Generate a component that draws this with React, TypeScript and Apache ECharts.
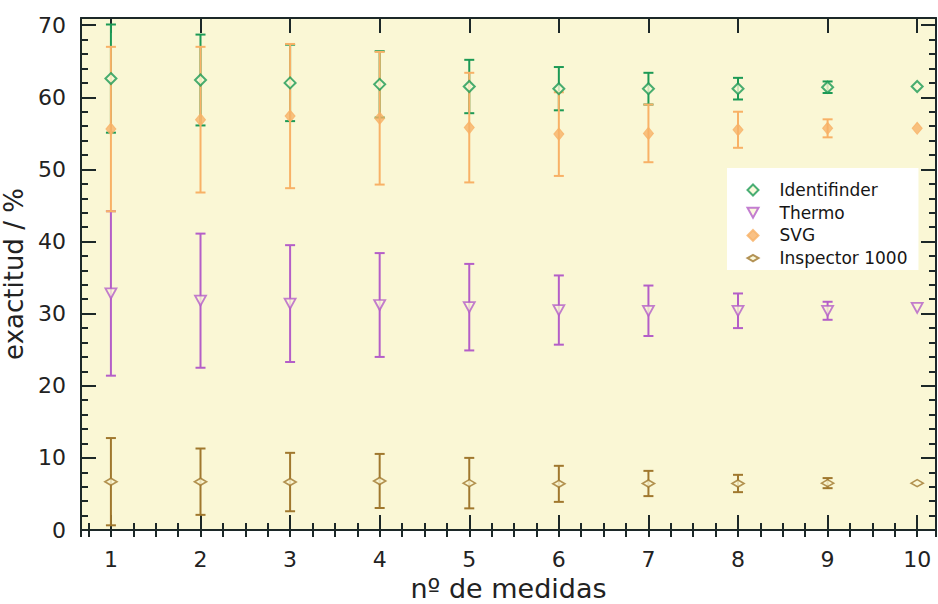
import React, { useEffect, useRef } from 'react';
import * as echarts from 'echarts';

// ---- data ----
const medidas = [1, 2, 3, 4, 5, 6, 7, 8, 9, 10];

const identifinderMean = [62.6, 62.4, 62.0, 61.8, 61.5, 61.2, 61.2, 61.2, 61.4, 61.5];
const identifinderErr = [7.5, 6.3, 5.3, 4.6, 3.7, 3.0, 2.2, 1.5, 0.8, 0];

const thermoMean = [32.8, 31.8, 31.4, 31.2, 30.9, 30.5, 30.4, 30.4, 30.4, 30.8];
const thermoErr = [11.4, 9.3, 8.1, 7.2, 6.0, 4.8, 3.5, 2.4, 1.25, 0];

const svgMean = [55.6, 56.9, 57.4, 57.1, 55.8, 54.9, 55.0, 55.5, 55.7, 55.7];
const svgErr = [11.4, 10.1, 10.0, 9.2, 7.6, 5.8, 4.0, 2.5, 1.25, 0];

const inspectorMean = [6.7, 6.7, 6.65, 6.8, 6.5, 6.4, 6.45, 6.45, 6.5, 6.5];
const inspectorErr = [6.05, 4.6, 4.05, 3.75, 3.5, 2.5, 1.75, 1.2, 0.7, 0];

const seriesNames = ['Identifinder', 'Thermo', 'SVG', 'Inspector 1000'];
const xTitle = 'nº de medidas';
const yTitle = 'exactitud / %';

// ---- styling ----
const BG = '#faf7d5';
const AXIS = '#1c2828';
const FONT = 'DejaVu Sans';
const C_ID = '#1c9a55';
const C_TH = '#b45ec8';
const C_SVG = '#f8b166';
const C_INS = '#a0782e';

const X_MIN = 0.666;
const X_MAX = 10.21;
const Y_MIN = 0;
const Y_MAX = 71;

function pts(mean: number[]) {
  return medidas.map((x, i) => [x, mean[i]]);
}
function bars(mean: number[], err: number[]) {
  return medidas
    .map((x, i) => [x, mean[i] - err[i], mean[i] + err[i]])
    .filter((d, i) => err[i] > 0);
}

function errorSeries(name: string, mean: number[], err: number[], color: string, z: number) {
  return {
    type: 'custom',
    name: 'err-' + name,
    xAxisIndex: 0,
    yAxisIndex: 0,
    encode: { x: 0, y: [1, 2] },
    data: bars(mean, err),
    z,
    renderItem: (params: any, api: any) => {
      const x = api.value(0);
      const lo = api.coord([x, api.value(1)]);
      const hi = api.coord([x, api.value(2)]);
      const w = 5;
      const style = { stroke: color, lineWidth: 2, fill: 'none' };
      return {
        type: 'group',
        children: [
          { type: 'line', shape: { x1: hi[0], y1: hi[1], x2: lo[0], y2: lo[1] }, style },
          { type: 'line', shape: { x1: hi[0] - w, y1: hi[1], x2: hi[0] + w, y2: hi[1] }, style },
          { type: 'line', shape: { x1: lo[0] - w, y1: lo[1], x2: lo[0] + w, y2: lo[1] }, style },
        ],
      };
    },
  };
}

export default function App() {
  const ref = useRef<HTMLDivElement>(null);

  useEffect(() => {
    if (!ref.current) return;
    const chart = echarts.init(ref.current, undefined, { renderer: 'svg' });

    const gridRect = { left: 81, right: 2, top: 18, bottom: 74, outerBoundsMode: 'none', containLabel: false };

    const majorX = (position: string, withLabel: boolean, extra: any = {}) => ({
      type: 'value',
      gridIndex: 0,
      position,
      min: X_MIN,
      max: X_MAX,
      minInterval: 1,
      maxInterval: 1,
      axisLine: { show: true, onZero: false, lineStyle: { color: AXIS, width: 2 } },
      axisTick: { show: true, inside: true, length: 15, lineStyle: { color: AXIS, width: 2 } },
      axisLabel: {
        show: withLabel,
        showMinLabel: false,
        showMaxLabel: false,
        margin: 18,
        fontFamily: FONT,
        fontSize: 22,
        color: '#222',
        formatter: (v: number) => (Number.isInteger(v) ? String(v) : ''),
      },
      splitLine: { show: false },
      ...extra,
    });
    const minorX = (position: string) => ({
      type: 'value',
      gridIndex: 1,
      position,
      min: X_MIN,
      max: X_MAX,
      minInterval: 0.25,
      maxInterval: 0.25,
      axisLine: { show: false },
      axisTick: { show: true, inside: true, length: 7, lineStyle: { color: AXIS, width: 2 } },
      axisLabel: { show: false },
      splitLine: { show: false },
    });
    const majorY = (position: string, withLabel: boolean, extra: any = {}) => ({
      type: 'value',
      gridIndex: 0,
      position,
      min: Y_MIN,
      max: Y_MAX,
      interval: 10,
      axisLine: { show: true, onZero: false, lineStyle: { color: AXIS, width: 2 } },
      axisTick: { show: true, inside: true, length: 15, lineStyle: { color: AXIS, width: 2 } },
      axisLabel: {
        show: withLabel,
        showMaxLabel: false,
        margin: 15,
        fontFamily: FONT,
        fontSize: 22,
        color: '#222',
        formatter: (v: number) => (v % 10 === 0 ? String(v) : ''),
      },
      splitLine: { show: false },
      ...extra,
    });
    const minorY = (position: string) => ({
      type: 'value',
      gridIndex: 1,
      position,
      min: Y_MIN,
      max: Y_MAX,
      interval: 2,
      axisLine: { show: false },
      axisTick: { show: true, inside: true, length: 7, lineStyle: { color: AXIS, width: 2 } },
      axisLabel: { show: false },
      splitLine: { show: false },
    });

    chart.setOption({
      animation: false,
      backgroundColor: '#ffffff',
      grid: [
        { ...gridRect, show: true, backgroundColor: BG, borderWidth: 0 },
        { ...gridRect, show: false },
      ],
      xAxis: [
        majorX('bottom', true, {
          name: xTitle,
          nameLocation: 'middle',
          nameGap: 44,
          nameTextStyle: { fontFamily: FONT, fontSize: 27, color: '#222' },
        }),
        majorX('top', false),
        minorX('bottom'),
        minorX('top'),
      ],
      yAxis: [
        majorY('left', true, {
          name: yTitle,
          nameLocation: 'middle',
          nameGap: 42,
          nameTextStyle: { fontFamily: FONT, fontSize: 26, color: '#222' },
        }),
        majorY('right', false),
        minorY('left'),
        minorY('right'),
      ],
      legend: {
        orient: 'vertical',
        left: 727,
        top: 168,
        padding: [13.5, 11, 3.5, 19.5],
        itemGap: 5.7,
        itemWidth: 11,
        itemHeight: 11,
        backgroundColor: '#ffffff',
        selectedMode: false,
        textStyle: {
          fontFamily: FONT,
          fontSize: 17,
          lineHeight: 17,
          color: '#151515',
          padding: [0, 0, 0, 16],
        },
        data: [
          { name: seriesNames[0] },
          { name: seriesNames[1], icon: 'path://M0,0L10,0L5,9Z' },
          { name: seriesNames[2] },
          { name: seriesNames[3], icon: 'path://M0,3.5L6,0L12,3.5L6,7Z' },
        ],
      },
      series: [
        errorSeries(seriesNames[3], inspectorMean, inspectorErr, C_INS, 2),
        errorSeries(seriesNames[1], thermoMean, thermoErr, C_TH, 2),
        errorSeries(seriesNames[0], identifinderMean, identifinderErr, C_ID, 2),
        errorSeries(seriesNames[2], svgMean, svgErr, C_SVG, 3),
        {
          type: 'scatter',
          name: seriesNames[3],
          xAxisIndex: 0,
          yAxisIndex: 0,
          data: pts(inspectorMean),
          symbol: 'diamond',
          symbolSize: [12, 7],
          itemStyle: { color: BG, borderColor: C_INS, borderWidth: 1.8 },
          z: 5,
        },
        {
          type: 'scatter',
          name: seriesNames[1],
          xAxisIndex: 0,
          yAxisIndex: 0,
          data: pts(thermoMean),
          symbol: 'triangle',
          symbolRotate: 180,
          symbolSize: [11, 10],
          itemStyle: { color: BG, borderColor: C_TH, borderWidth: 1.8 },
          z: 5,
        },
        {
          type: 'scatter',
          name: seriesNames[2],
          xAxisIndex: 0,
          yAxisIndex: 0,
          data: pts(svgMean),
          symbol: 'diamond',
          symbolSize: [10, 12],
          itemStyle: { color: C_SVG, borderColor: C_SVG, borderWidth: 1 },
          z: 5,
        },
        {
          type: 'scatter',
          name: seriesNames[0],
          xAxisIndex: 0,
          yAxisIndex: 0,
          data: pts(identifinderMean),
          symbol: 'diamond',
          symbolSize: [11, 11],
          itemStyle: { color: BG, borderColor: C_ID, borderWidth: 2 },
          z: 6,
        },
      ],
    });

    return () => chart.dispose();
  }, []);

  return (
    <div
      ref={ref}
      style={{ position: 'fixed', left: 0, top: 0, width: 938, height: 604, background: '#fff' }}
    />
  );
}
